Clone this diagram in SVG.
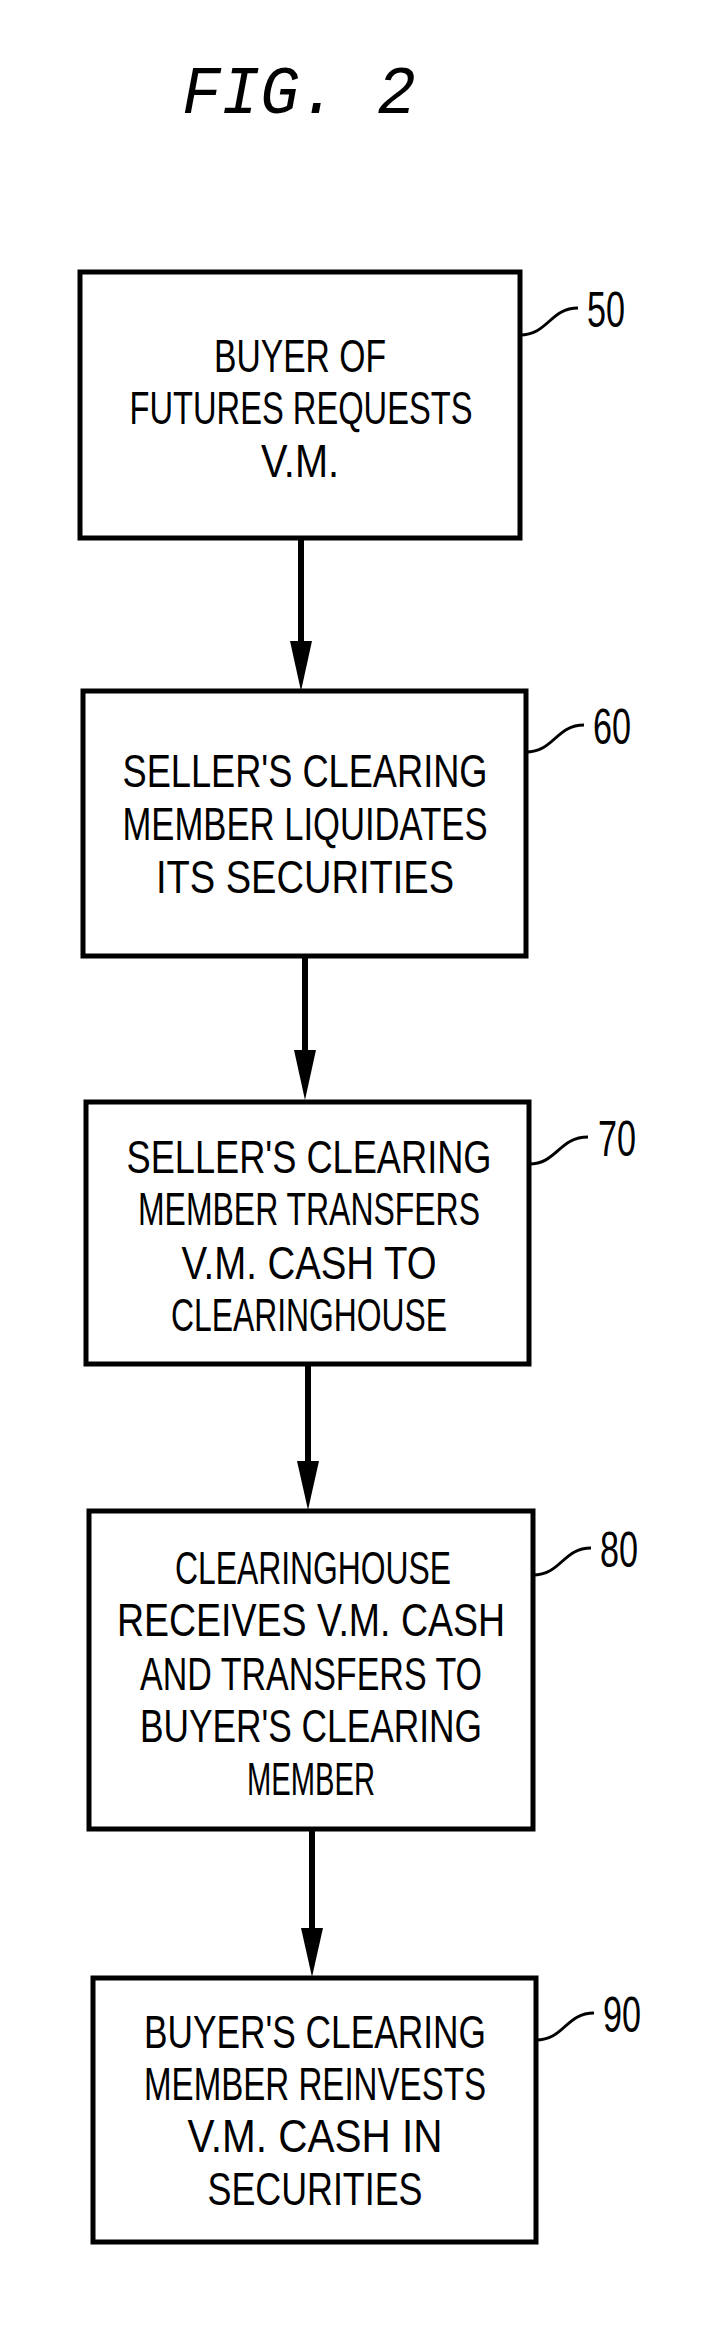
<svg xmlns="http://www.w3.org/2000/svg" width="728" height="2351" viewBox="0 0 728 2351">
<style>
.box{fill:#fff;stroke:#000;stroke-width:5}
.t{font-family:"Liberation Sans",Arial,sans-serif;font-size:46px;text-anchor:middle;fill:#000}
.n{font-family:"Liberation Sans",Arial,sans-serif;font-size:50px;fill:#000}
.ld{fill:none;stroke:#000;stroke-width:3}
.ar{stroke:#000;stroke-width:6}
</style>
<defs><marker id="ah" markerWidth="8" markerHeight="8" refX="8" refY="4" orient="auto" markerUnits="userSpaceOnUse" viewBox="0 0 8 8"><path d="M0,0 L8,4 L0,8 Z" fill="#000"/></marker></defs>
<rect width="728" height="2351" fill="#fff"/>
<text x="182" y="113" font-family="Liberation Mono,monospace" font-style="italic" font-size="68" textLength="234" lengthAdjust="spacingAndGlyphs">FIG. 2</text>
<g id="connectors">
<line class="ar" x1="301" y1="540" x2="301" y2="645"/><path d="M290,641 L312,641 L301,691 Z"/>
<line class="ar" x1="305" y1="956" x2="305" y2="1055"/><path d="M294,1050 L316,1050 L305,1100 Z"/>
<line class="ar" x1="308" y1="1364" x2="308" y2="1465"/><path d="M297,1461 L319,1461 L308,1510 Z"/>
<line class="ar" x1="312" y1="1829" x2="312" y2="1932"/><path d="M301,1928 L323,1928 L312,1977 Z"/>
</g>
<g id="n50">
<rect class="box" x="80" y="272" width="440" height="266"/>
<text class="t" x="300" y="372" textLength="172" lengthAdjust="spacingAndGlyphs">BUYER OF</text>
<text class="t" x="301" y="424" textLength="343" lengthAdjust="spacingAndGlyphs">FUTURES REQUESTS</text>
<text class="t" x="300" y="477" textLength="78" lengthAdjust="spacingAndGlyphs">V.M.</text>
<path class="ld" d="M520,335 C548,335 550,308 578,308"/>
<text class="n" x="587" y="327" textLength="38" lengthAdjust="spacingAndGlyphs">50</text>
</g>
<g id="n60">
<rect class="box" x="83" y="691" width="443" height="265"/>
<text class="t" x="305" y="787" textLength="365" lengthAdjust="spacingAndGlyphs">SELLER'S CLEARING</text>
<text class="t" x="305" y="840" textLength="365" lengthAdjust="spacingAndGlyphs">MEMBER LIQUIDATES</text>
<text class="t" x="305" y="893" textLength="298" lengthAdjust="spacingAndGlyphs">ITS SECURITIES</text>
<path class="ld" d="M526,752 C554,752 556,725 584,725"/>
<text class="n" x="593" y="744" textLength="38" lengthAdjust="spacingAndGlyphs">60</text>
</g>
<g id="n70">
<rect class="box" x="86" y="1102" width="443" height="262"/>
<text class="t" x="309" y="1173" textLength="365" lengthAdjust="spacingAndGlyphs">SELLER'S CLEARING</text>
<text class="t" x="309" y="1225" textLength="342" lengthAdjust="spacingAndGlyphs">MEMBER TRANSFERS</text>
<text class="t" x="309" y="1279" textLength="255" lengthAdjust="spacingAndGlyphs">V.M. CASH TO</text>
<text class="t" x="309" y="1331" textLength="276" lengthAdjust="spacingAndGlyphs">CLEARINGHOUSE</text>
<path class="ld" d="M529,1164 C557,1164 559,1137 588,1137"/>
<text class="n" x="598" y="1156" textLength="38" lengthAdjust="spacingAndGlyphs">70</text>
</g>
<g id="n80">
<rect class="box" x="89" y="1511" width="444" height="318"/>
<text class="t" x="313" y="1584" textLength="276" lengthAdjust="spacingAndGlyphs">CLEARINGHOUSE</text>
<text class="t" x="311" y="1636" textLength="388" lengthAdjust="spacingAndGlyphs">RECEIVES V.M. CASH</text>
<text class="t" x="311" y="1690" textLength="342" lengthAdjust="spacingAndGlyphs">AND TRANSFERS TO</text>
<text class="t" x="311" y="1742" textLength="342" lengthAdjust="spacingAndGlyphs">BUYER'S CLEARING</text>
<text class="t" x="311" y="1795" textLength="128" lengthAdjust="spacingAndGlyphs">MEMBER</text>
<path class="ld" d="M533,1575 C561,1575 563,1548 591,1548"/>
<text class="n" x="600" y="1567" textLength="38" lengthAdjust="spacingAndGlyphs">80</text>
</g>
<g id="n90">
<rect class="box" x="93" y="1978" width="443" height="264"/>
<text class="t" x="315" y="2048" textLength="342" lengthAdjust="spacingAndGlyphs">BUYER'S CLEARING</text>
<text class="t" x="315" y="2100" textLength="342" lengthAdjust="spacingAndGlyphs">MEMBER REINVESTS</text>
<text class="t" x="315" y="2152" textLength="255" lengthAdjust="spacingAndGlyphs">V.M. CASH IN</text>
<text class="t" x="315" y="2205" textLength="215" lengthAdjust="spacingAndGlyphs">SECURITIES</text>
<path class="ld" d="M536,2040 C564,2040 566,2013 594,2013"/>
<text class="n" x="603" y="2032" textLength="38" lengthAdjust="spacingAndGlyphs">90</text>
</g>
</svg>
